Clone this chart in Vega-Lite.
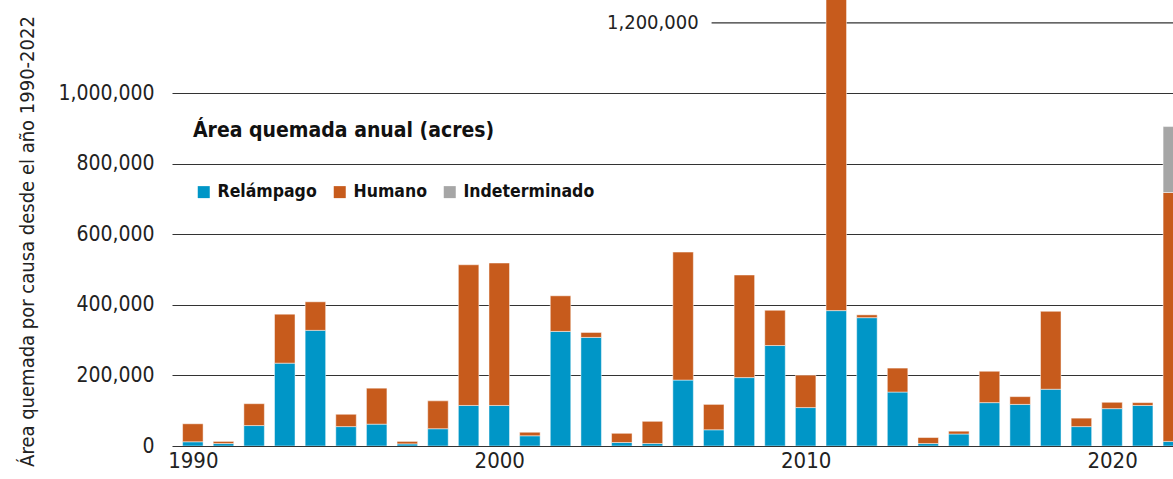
{
  "$schema": "https://vega.github.io/schema/vega-lite/v6.json",
  "width": 1001,
  "height": 446,
  "autosize": "none",
  "padding": {"left": 172, "top": 0, "right": 0, "bottom": 33},
  "background": "white",
  "config": {"view": {"stroke": null}, "font": "'DejaVu Sans Condensed', 'Liberation Sans', sans-serif"},
  "data": {"values": [
    {"año": 1990, "causa": "Relámpago", "acres": 12000}, {"año": 1990, "causa": "Humano", "acres": 51000},
    {"año": 1991, "causa": "Relámpago", "acres": 7000}, {"año": 1991, "causa": "Humano", "acres": 6000},
    {"año": 1992, "causa": "Relámpago", "acres": 58000}, {"año": 1992, "causa": "Humano", "acres": 62000},
    {"año": 1993, "causa": "Relámpago", "acres": 235000}, {"año": 1993, "causa": "Humano", "acres": 139000},
    {"año": 1994, "causa": "Relámpago", "acres": 328000}, {"año": 1994, "causa": "Humano", "acres": 81000},
    {"año": 1995, "causa": "Relámpago", "acres": 55000}, {"año": 1995, "causa": "Humano", "acres": 35000},
    {"año": 1996, "causa": "Relámpago", "acres": 62000}, {"año": 1996, "causa": "Humano", "acres": 102000},
    {"año": 1997, "causa": "Relámpago", "acres": 6000}, {"año": 1997, "causa": "Humano", "acres": 7000},
    {"año": 1998, "causa": "Relámpago", "acres": 49000}, {"año": 1998, "causa": "Humano", "acres": 79000},
    {"año": 1999, "causa": "Relámpago", "acres": 115000}, {"año": 1999, "causa": "Humano", "acres": 399000},
    {"año": 2000, "causa": "Relámpago", "acres": 115000}, {"año": 2000, "causa": "Humano", "acres": 404000},
    {"año": 2001, "causa": "Relámpago", "acres": 29000}, {"año": 2001, "causa": "Humano", "acres": 10000},
    {"año": 2002, "causa": "Relámpago", "acres": 325000}, {"año": 2002, "causa": "Humano", "acres": 101000},
    {"año": 2003, "causa": "Relámpago", "acres": 308000}, {"año": 2003, "causa": "Humano", "acres": 14000},
    {"año": 2004, "causa": "Relámpago", "acres": 10000}, {"año": 2004, "causa": "Humano", "acres": 26000},
    {"año": 2005, "causa": "Relámpago", "acres": 7000}, {"año": 2005, "causa": "Humano", "acres": 63000},
    {"año": 2006, "causa": "Relámpago", "acres": 187000}, {"año": 2006, "causa": "Humano", "acres": 363000},
    {"año": 2007, "causa": "Relámpago", "acres": 46000}, {"año": 2007, "causa": "Humano", "acres": 72000},
    {"año": 2008, "causa": "Relámpago", "acres": 194000}, {"año": 2008, "causa": "Humano", "acres": 291000},
    {"año": 2009, "causa": "Relámpago", "acres": 285000}, {"año": 2009, "causa": "Humano", "acres": 100000},
    {"año": 2010, "causa": "Relámpago", "acres": 109000}, {"año": 2010, "causa": "Humano", "acres": 92000},
    {"año": 2011, "causa": "Relámpago", "acres": 384000}, {"año": 2011, "causa": "Humano", "acres": 1000000},
    {"año": 2012, "causa": "Relámpago", "acres": 364000}, {"año": 2012, "causa": "Humano", "acres": 8000},
    {"año": 2013, "causa": "Relámpago", "acres": 153000}, {"año": 2013, "causa": "Humano", "acres": 68000},
    {"año": 2014, "causa": "Relámpago", "acres": 7000}, {"año": 2014, "causa": "Humano", "acres": 17000},
    {"año": 2015, "causa": "Relámpago", "acres": 34000}, {"año": 2015, "causa": "Humano", "acres": 8000},
    {"año": 2016, "causa": "Relámpago", "acres": 123000}, {"año": 2016, "causa": "Humano", "acres": 89000},
    {"año": 2017, "causa": "Relámpago", "acres": 118000}, {"año": 2017, "causa": "Humano", "acres": 22000},
    {"año": 2018, "causa": "Relámpago", "acres": 161000}, {"año": 2018, "causa": "Humano", "acres": 221000},
    {"año": 2019, "causa": "Relámpago", "acres": 55000}, {"año": 2019, "causa": "Humano", "acres": 24000},
    {"año": 2020, "causa": "Relámpago", "acres": 106000}, {"año": 2020, "causa": "Humano", "acres": 18000},
    {"año": 2021, "causa": "Relámpago", "acres": 115000}, {"año": 2021, "causa": "Humano", "acres": 8000},
    {"año": 2022, "causa": "Relámpago", "acres": 13000}, {"año": 2022, "causa": "Humano", "acres": 706000},
    {"año": 2022, "causa": "Indeterminado", "acres": 187000}
  ]},
  "layer": [
    {
      "data": {"values": [{"valor": 1200000, "desde": 2006.93, "hasta": 2023, "etiqueta": "1,200,000"}]},
      "mark": {"type": "rule", "clip": true, "color": "#333", "strokeWidth": 1.2},
      "encoding": {
        "x": {"field": "desde", "type": "quantitative"},
        "x2": {"field": "hasta"},
        "y": {"field": "valor", "type": "quantitative"}
      }
    },
    {
      "data": {"values": [{"valor": 1200000, "desde": 2006.93, "etiqueta": "1,200,000"}]},
      "mark": {"type": "text", "align": "right", "baseline": "middle", "dx": -13, "fontSize": 20, "color": "#222"},
      "encoding": {
        "x": {"field": "desde", "type": "quantitative"},
        "y": {"field": "valor", "type": "quantitative"},
        "text": {"field": "etiqueta"}
      }
    },
    {
      "transform": [{"calculate": "indexof(['Relámpago','Humano','Indeterminado'], datum.causa)", "as": "k"}],
      "mark": {"type": "bar", "clip": true, "size": 20.5, "stroke": "white", "strokeWidth": 0.8, "strokeOpacity": 0.6},
      "encoding": {
        "x": {
          "field": "año", "type": "quantitative",
          "scale": {"domain": [1989.483, 2021.826], "nice": false, "zero": false},
          "axis": {"values": [1990, 2000, 2010, 2020], "format": "d", "title": null, "domain": false, "ticks": false, "grid": false, "labelFontSize": 22, "labelPadding": 4, "labelColor": "#222", "labelFlush": false, "labelOverlap": false}
        },
        "y": {
          "field": "acres", "type": "quantitative", "stack": "zero",
          "scale": {"domain": [0, 1265000], "nice": false},
          "axis": {"values": [0, 200000, 400000, 600000, 800000, 1000000], "format": ",d", "title": "Área quemada por causa desde el año 1990-2022", "domain": false, "ticks": false, "grid": true, "gridColor": "#333", "gridWidth": 1.2, "labelFontSize": 21, "labelPadding": 18, "labelColor": "#222", "titleFontSize": 20, "titleFontWeight": "normal", "titleColor": "#222", "titleX": -139, "titleY": 241, "titleAngle": -90, "titleAlign": "center", "titleBaseline": "alphabetic", "titleLimit": 600}
        },
        "color": {
          "field": "causa", "type": "nominal",
          "scale": {"domain": ["Relámpago", "Humano", "Indeterminado"], "range": ["#0096c7", "#c75b1c", "#a6a6a6"]},
          "legend": {"orient": "none", "legendX": 21, "legendY": 120, "direction": "horizontal", "columns": 3, "title": "Área quemada anual (acres)", "titleFontSize": 21, "titleFontWeight": "bold", "titleColor": "#111", "titlePadding": 42, "titleLimit": 600, "labelFontSize": 17.5, "labelFontWeight": "bold", "labelColor": "#111", "labelLimit": 300, "symbolType": "square", "symbolSize": 144, "symbolOpacity": 1, "symbolStrokeWidth": 0, "symbolOffset": 2, "labelOffset": 5, "columnPadding": 12, "padding": 0}
        },
        "order": {"field": "k", "type": "quantitative", "sort": "ascending"}
      }
    }
  ]
}
